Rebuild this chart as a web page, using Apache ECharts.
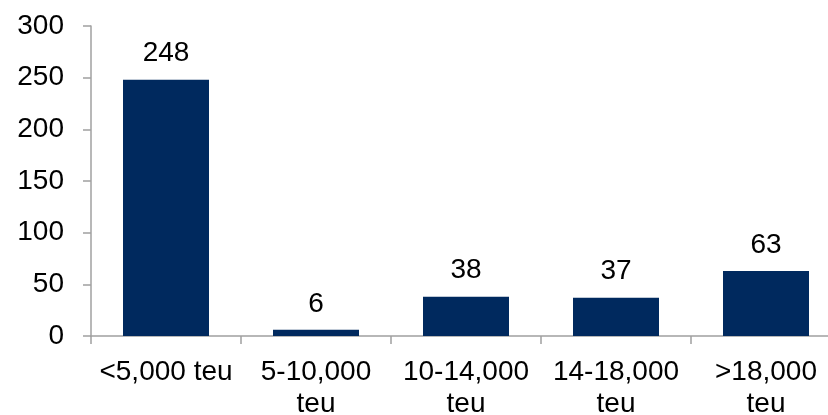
<!DOCTYPE html>
<html>
<head>
<meta charset="utf-8">
<script src="https://cdn.jsdelivr.net/npm/echarts@6/dist/echarts.min.js"></script>
<style>
html,body{margin:0;padding:0;background:#fff;overflow:hidden;}
#c{width:828px;height:415px;}
</style>
</head>
<body>
<div id="c"></div>
<script>
const categories = ["<5,000 teu", "5-10,000\nteu", "10-14,000\nteu", "14-18,000\nteu", ">18,000\nteu"];
const values = [248, 6, 38, 37, 63];
const yTicks = { min: 0, max: 300, interval: 50 };

const chart = echarts.init(document.getElementById('c'), null, { renderer: 'canvas' });
chart.setOption({
  animation: false,
  grid: { left: 91, width: 750, top: 26, height: 310, containLabel: false, outerBoundsMode: 'none' },
  xAxis: {
    type: 'category',
    data: categories,
    axisLine: { show: true, lineStyle: { color: '#A0A0A0', width: 1.5 } },
    axisTick: { show: true, alignWithLabel: false, length: 8, lineStyle: { color: '#A0A0A0', width: 1.5 } },
    axisLabel: {
      color: '#000', fontFamily: 'Liberation Sans, Arial, sans-serif', fontSize: 28,
      lineHeight: 32, margin: 20, interval: 0, hideOverlap: false
    },
    splitLine: { show: false }
  },
  yAxis: {
    type: 'value',
    min: yTicks.min, max: yTicks.max, interval: yTicks.interval,
    axisLine: { show: true, lineStyle: { color: '#A0A0A0', width: 1.5 } },
    axisTick: { show: true, length: 8, lineStyle: { color: '#A0A0A0', width: 1.5 } },
    axisLabel: { color: '#000', fontFamily: 'Liberation Sans, Arial, sans-serif', fontSize: 28, margin: 27 },
    splitLine: { show: false }
  },
  series: [{
    type: 'bar',
    data: values,
    barWidth: 86,
    itemStyle: { color: '#00295E' },
    label: {
      show: true, position: 'top', distance: 12,
      color: '#000', fontFamily: 'Liberation Sans, Arial, sans-serif', fontSize: 28
    }
  }]
});
</script>
</body>
</html>
